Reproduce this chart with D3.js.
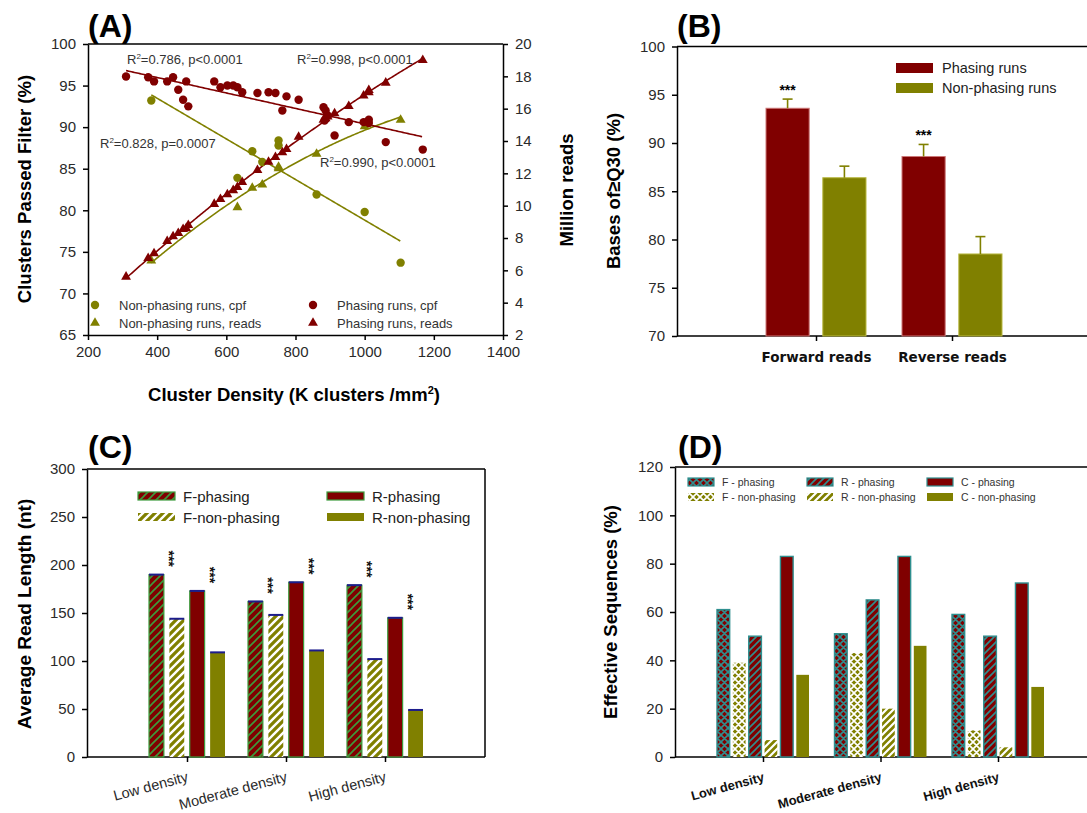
<!DOCTYPE html>
<html lang="en">
<head>
<meta charset="UTF-8">
<title>Phasing vs non-phasing runs</title>
<style>
  body { margin: 0; background: #fff; }
  svg { font-family: "Liberation Sans", Arial, sans-serif; }
</style>
</head>
<body>
<svg id="fig" width="1087" height="813"></svg>
<script src="https://d3js.org/d3.v7.min.js"></script>
<script>
// ---- panel A : cluster density vs cpf / reads ----
const phDensity = [310, 374, 391, 429, 446, 461, 475, 484, 490, 565, 583, 603, 620, 632, 646, 690,
                   722, 742, 762, 774, 809, 881, 884, 887, 893, 913, 954, 997, 1012, 1012, 1061, 1168];
const phCpf = [96.1, 96.0, 95.5, 95.5, 96.0, 94.5, 93.3, 95.5, 92.5, 95.5, 94.8, 95.0, 95.0, 94.8, 94.2, 94.1,
               94.2, 94.1, 92.0, 93.7, 93.3, 92.4, 90.8, 92.0, 91.4, 89.0, 90.6, 90.6, 90.9, 90.5, 88.2, 87.3];
const phReads = [5.6, 6.75, 7.05, 7.8, 8.1, 8.3, 8.55, 8.6, 8.8, 10.1, 10.4, 10.7, 10.95, 11.15, 11.45, 12.2,
                 12.7, 13.0, 13.3, 13.5, 14.25, 15.3, 15.35, 15.4, 15.5, 15.7, 16.15, 16.8, 17.0, 17.15, 17.6, 19.0];
const npDensity = [383, 632, 675, 704, 751, 751, 861, 1000, 1104];
const npCpf = [93.2, 83.9, 87.1, 85.8, 88.4, 87.8, 81.9, 79.8, 73.7];
const npReads = [6.6, 9.9, 11.1, 11.3, 12.3, 12.4, 13.2, 14.9, 15.3];
const fitNotes = ["=0.786, p<0.0001", "=0.998, p<0.0001", "=0.828, p=0.0007", "=0.990, p<0.0001"];

// ---- panel B : bases >= Q30 ----
const q30Categories = ["Forward reads", "Reverse reads"];
const q30Phasing = [93.6, 88.6];
const q30PhasingErr = [0.95, 1.25];
const q30NonPhasing = [86.4, 78.5];
const q30NonPhasingErr = [1.2, 1.8];

// ---- panel C : average read length ----
const densityCategories = ["Low density", "Moderate density", "High density"];
const lenFPhasing = [190, 162, 179];
const lenFNonPhasing = [144, 148, 102];
const lenRPhasing = [173, 182, 145];
const lenRNonPhasing = [109, 111, 49];

// ---- panel D : effective sequences ----
const effFPhasing = [61, 51, 59];
const effFNonPhasing = [39, 43, 11];
const effRPhasing = [50, 65, 50];
const effRNonPhasing = [7, 20, 4];
const effCPhasing = [83, 83, 72];
const effCNonPhasing = [34, 46, 29];

const red = "#800000", olive = "#808000", teal = "#2f8f8f", green = "#3c9c3c";
const ink = "#2a2a2a";

const svg = d3.select("#fig");
const defs = svg.append("defs");

function addHatch(id, bg, fg, size, sw, cross) {
  const p = defs.append("pattern").attr("id", id)
    .attr("patternUnits", "userSpaceOnUse").attr("width", size).attr("height", size);
  p.append("rect").attr("width", size).attr("height", size).attr("fill", bg);
  let d = `M0,${size} L${size},0 M-2,2 L2,-2 M${size - 2},${size + 2} L${size + 2},${size - 2}`;
  if (cross) d += ` M0,0 L${size},${size} M-2,${size - 2} L2,${size + 2} M${size - 2},-2 L${size + 2},2`;
  p.append("path").attr("d", d).attr("stroke", fg).attr("stroke-width", sw).attr("fill", "none");
}
addHatch("cFph", red, green, 8, 1.6, false);
addHatch("cFnp", olive, "#fff", 8, 2.4, false);
addHatch("dFph", red, teal, 7, 1.6, true);
addHatch("dFnp", olive, "#fff", 7, 1.7, true);
addHatch("dRph", red, teal, 7, 1.6, false);
addHatch("dRnp", olive, "#fff", 7, 2.2, false);

function styleAxis(g, fs) {
  g.selectAll("path, line").attr("stroke", "#000").attr("stroke-width", 1.5);
  g.selectAll("text").attr("font-size", fs).attr("fill", ink)
    .attr("font-family", "'Liberation Sans', Arial, sans-serif");
}
function hline(x1, x2, y) {
  svg.append("line").attr("x1", x1).attr("x2", x2).attr("y1", y).attr("y2", y)
    .attr("stroke", "#000").attr("stroke-width", 1.5);
}
function vline(x, y1, y2) {
  svg.append("line").attr("x1", x).attr("x2", x).attr("y1", y1).attr("y2", y2)
    .attr("stroke", "#000").attr("stroke-width", 1.5);
}
function yTitle(x, y, txt, fs) {
  svg.append("text").attr("transform", `translate(${x},${y}) rotate(-90)`)
    .attr("text-anchor", "middle").attr("dominant-baseline", "central")
    .attr("font-weight", "bold").attr("font-size", fs).attr("fill", "#000").text(txt);
}
function panelLabel(x, y, txt) {
  svg.append("text").attr("x", x).attr("y", y).attr("font-weight", "bold")
    .attr("font-size", 32).attr("fill", "#000").text(txt);
}

// least squares helpers for the fit lines
function linFit(xs, ys) {
  const mx = d3.mean(xs), my = d3.mean(ys);
  let sxy = 0, sxx = 0;
  xs.forEach((x, i) => { sxy += (x - mx) * (ys[i] - my); sxx += (x - mx) ** 2; });
  const b = sxy / sxx;
  return x => my + b * (x - mx);
}
function quadFit(xs, ys) {
  const mx = d3.mean(xs);
  const us = xs.map(x => (x - mx) / 1000);
  const s = [0, 0, 0, 0, 0], t = [0, 0, 0];
  us.forEach((u, i) => {
    for (let k = 0; k < 5; k++) s[k] += u ** k;
    for (let k = 0; k < 3; k++) t[k] += ys[i] * u ** k;
  });
  const m = [[s[0], s[1], s[2], t[0]], [s[1], s[2], s[3], t[1]], [s[2], s[3], s[4], t[2]]];
  for (let c = 0; c < 3; c++) {
    for (let r = c + 1; r < 3; r++) {
      const f = m[r][c] / m[c][c];
      for (let k = c; k < 4; k++) m[r][k] -= f * m[c][k];
    }
  }
  const co = [0, 0, 0];
  for (let r = 2; r >= 0; r--) {
    let v = m[r][3];
    for (let k = r + 1; k < 3; k++) v -= m[r][k] * co[k];
    co[r] = v / m[r][r];
  }
  return x => { const u = (x - mx) / 1000; return co[0] + co[1] * u + co[2] * u * u; };
}

// ================= PANEL A =================
const xA = d3.scaleLinear().domain([200, 1400]).range([88, 503]);
const yA = d3.scaleLinear().domain([65, 100]).range([335, 44]);
const yA2 = d3.scaleLinear().domain([2, 20]).range([335, 44]);

svg.append("g").attr("transform", "translate(0,335)")
  .call(d3.axisBottom(xA).tickValues(d3.range(200, 1401, 200)).tickFormat(d3.format("d"))
    .tickSize(5).tickSizeOuter(0).tickPadding(6))
  .call(g => styleAxis(g, 15));
svg.append("g").attr("transform", "translate(88,0)")
  .call(d3.axisLeft(yA).tickValues(d3.range(65, 101, 5)).tickSize(5).tickSizeOuter(0).tickPadding(7))
  .call(g => styleAxis(g, 15));
svg.append("g").attr("transform", "translate(503,0)")
  .call(d3.axisRight(yA2).tickValues(d3.range(2, 21, 2)).tickSize(5).tickSizeOuter(0).tickPadding(7))
  .call(g => styleAxis(g, 15));
hline(88, 503, 44);

function fitLine(xs, fn, yScale, color) {
  const pts = d3.range(d3.min(xs), d3.max(xs) + 0.1, 4).map(x => [xA(x), yScale(fn(x))]);
  svg.append("path").attr("d", d3.line()(pts)).attr("fill", "none")
    .attr("stroke", color).attr("stroke-width", 1.6);
}
fitLine(npDensity, linFit(npDensity, npCpf), yA, olive);
fitLine(npDensity, quadFit(npDensity, npReads), yA2, olive);
fitLine(phDensity, linFit(phDensity, phCpf), yA, red);
fitLine(phDensity, quadFit(phDensity, phReads), yA2, red);

const tri = d3.symbol().type(d3.symbolTriangle).size(42);
function dots(xs, ys, yScale, color) {
  svg.append("g").selectAll("circle").data(xs).join("circle")
    .attr("cx", d => xA(d)).attr("cy", (d, i) => yScale(ys[i])).attr("r", 4.2).attr("fill", color);
}
function tris(xs, ys, yScale, color) {
  svg.append("g").selectAll("path").data(xs).join("path")
    .attr("d", tri).attr("transform", (d, i) => `translate(${xA(d)},${yScale(ys[i])})`).attr("fill", color);
}
dots(npDensity, npCpf, yA, olive);
tris(npDensity, npReads, yA2, olive);
dots(phDensity, phCpf, yA, red);
tris(phDensity, phReads, yA2, red);

// fit annotations
const notePos = [[127, 64], [297, 64], [100, 148], [320, 167]];
fitNotes.forEach((t, i) => {
  const tx = svg.append("text").attr("x", notePos[i][0]).attr("y", notePos[i][1])
    .attr("font-size", 13).attr("fill", "#333");
  tx.append("tspan").text("R");
  tx.append("tspan").attr("dy", -5).attr("font-size", 8).text("2");
  tx.append("tspan").attr("dy", 5).text(t);
});

// legend A
const legA = [
  { x: 95, y: 305, shape: "c", color: olive, label: "Non-phasing runs, cpf" },
  { x: 95, y: 323, shape: "t", color: olive, label: "Non-phasing runs, reads" },
  { x: 313, y: 305, shape: "c", color: red, label: "Phasing runs, cpf" },
  { x: 313, y: 323, shape: "t", color: red, label: "Phasing runs, reads" }
];
legA.forEach(l => {
  if (l.shape === "c") svg.append("circle").attr("cx", l.x).attr("cy", l.y).attr("r", 4.2).attr("fill", l.color);
  else svg.append("path").attr("d", tri).attr("transform", `translate(${l.x},${l.y})`).attr("fill", l.color);
  svg.append("text").attr("x", l.x + 24).attr("y", l.y).attr("dominant-baseline", "central")
    .attr("font-size", 13).attr("fill", "#333").text(l.label);
});

yTitle(24, 189, "Clusters Passed Filter (%)", 18.5);
yTitle(566, 190, "Million reads", 18.5);
const xt = svg.append("text").attr("x", 294).attr("y", 401).attr("text-anchor", "middle")
  .attr("font-weight", "bold").attr("font-size", 18.5).attr("fill", "#000");
xt.append("tspan").text("Cluster Density (K clusters /mm");
xt.append("tspan").attr("dy", -7).attr("font-size", 11).text("2");
xt.append("tspan").attr("dy", 7).text(")");
panelLabel(88, 37, "(A)");

// ================= PANEL B =================
const xB = d3.scalePoint().domain(q30Categories).range([816, 952]);
const inB = d3.scaleBand().domain(["ph", "np"]).range([-50, 50]).paddingInner(0.24);
const yB = d3.scaleLinear().domain([70, 100]).range([336, 46.5]);

svg.append("g").attr("transform", "translate(677,0)")
  .call(d3.axisLeft(yB).tickValues(d3.range(70, 101, 5)).tickSize(5).tickSizeOuter(0).tickPadding(7))
  .call(g => styleAxis(g, 15));
const bAx = svg.append("g").attr("transform", "translate(0,336)")
  .call(d3.axisBottom(xB).tickSize(5).tickSizeOuter(0).tickPadding(11))
  .call(g => styleAxis(g, 14));
bAx.select(".domain").remove();
bAx.selectAll("text").attr("font-family", "'DejaVu Sans', sans-serif").attr("font-weight", "bold")
  .attr("font-size", 13.5).attr("fill", "#111");
hline(677, 1090, 336);
hline(677, 1090, 46.5);

const bRows = q30Categories.map((c, i) => [
  { cat: c, key: "ph", v: q30Phasing[i], e: q30PhasingErr[i], fill: red, stroke: "#c77" },
  { cat: c, key: "np", v: q30NonPhasing[i], e: q30NonPhasingErr[i], fill: olive, stroke: "#b8b840" }
]).flat();
const bG = svg.append("g");
bG.selectAll("rect").data(bRows).join("rect")
  .attr("x", d => xB(d.cat) + inB(d.key)).attr("width", inB.bandwidth())
  .attr("y", d => yB(d.v)).attr("height", d => yB(70) - yB(d.v))
  .attr("fill", d => d.fill).attr("stroke", d => d.stroke).attr("stroke-width", 1);
bRows.forEach(d => {
  const cx = xB(d.cat) + inB(d.key) + inB.bandwidth() / 2;
  bG.append("line").attr("x1", cx).attr("x2", cx).attr("y1", yB(d.v)).attr("y2", yB(d.v + d.e))
    .attr("stroke", olive).attr("stroke-width", 1.6);
  bG.append("line").attr("x1", cx - 5).attr("x2", cx + 5).attr("y1", yB(d.v + d.e)).attr("y2", yB(d.v + d.e))
    .attr("stroke", olive).attr("stroke-width", 1.6);
  if (d.key === "ph") {
    bG.append("text").attr("x", cx).attr("y", yB(d.v + d.e) - 4).attr("text-anchor", "middle")
      .attr("font-size", 14).attr("font-weight", "bold").attr("fill", "#000").text("***");
  }
});
[["Phasing runs", red, 63], ["Non-phasing runs", olive, 83]].forEach(([t, c, y]) => {
  svg.append("rect").attr("x", 896).attr("y", y).attr("width", 37).attr("height", 10).attr("fill", c);
  svg.append("text").attr("x", 942).attr("y", y + 5).attr("dominant-baseline", "central")
    .attr("font-size", 14.5).attr("fill", "#222").text(t);
});
yTitle(613, 191, "Bases of\u2265Q30 (%)", 18.5);
panelLabel(677, 37, "(B)");

// ================= PANEL C =================
const xC = d3.scalePoint().domain(densityCategories).range([187, 385]);
const cSeries = [
  { key: "F-phasing", vals: lenFPhasing, fill: "url(#cFph)", stroke: green, star: true },
  { key: "F-non-phasing", vals: lenFNonPhasing, fill: "url(#cFnp)", stroke: "none", star: false },
  { key: "R-phasing", vals: lenRPhasing, fill: red, stroke: green, star: true },
  { key: "R-non-phasing", vals: lenRNonPhasing, fill: olive, stroke: "none", star: false }
];
const inC = d3.scaleBand().domain(cSeries.map(s => s.key)).range([-38, 38]).paddingInner(0.27);
const yC = d3.scaleLinear().domain([0, 300]).range([757, 469]);

svg.append("g").attr("transform", "translate(87,0)")
  .call(d3.axisLeft(yC).tickValues(d3.range(0, 301, 50)).tickSize(5).tickSizeOuter(0).tickPadding(7))
  .call(g => styleAxis(g, 15));
const cAx = svg.append("g").attr("transform", "translate(0,757)")
  .call(d3.axisBottom(xC).tickSize(5).tickSizeOuter(0).tickFormat(""))
  .call(g => styleAxis(g, 15));
cAx.select(".domain").remove();
hline(87, 485, 757);
hline(87, 485, 469);
vline(485, 469, 757);

const cRows = cSeries.map(s => densityCategories.map((c, i) => ({ cat: c, v: s.vals[i], s }))).flat();
const cG = svg.append("g");
cG.selectAll("rect").data(cRows).join("rect")
  .attr("x", d => xC(d.cat) + inC(d.s.key)).attr("width", inC.bandwidth())
  .attr("y", d => yC(d.v)).attr("height", d => yC(0) - yC(d.v))
  .attr("fill", d => d.s.fill).attr("stroke", d => d.s.stroke).attr("stroke-width", 1.2);
cRows.forEach(d => {
  const x0 = xC(d.cat) + inC(d.s.key);
  cG.append("line").attr("x1", x0).attr("x2", x0 + inC.bandwidth()).attr("y1", yC(d.v)).attr("y2", yC(d.v))
    .attr("stroke", "#1c1c8c").attr("stroke-width", 2);
  if (d.s.star) {
    cG.append("text").attr("transform", `translate(${x0 + inC.bandwidth() + 5},${yC(d.v) - 16}) rotate(90)`)
      .attr("text-anchor", "middle").attr("dominant-baseline", "central")
      .attr("font-size", 14).attr("font-weight", "bold").attr("fill", "#111").text("***");
  }
});
densityCategories.forEach(c => {
  const x = xC(c) + 2, y = 781;
  svg.append("text").attr("x", x).attr("y", y).attr("text-anchor", "end")
    .attr("transform", `rotate(-15,${x},${y})`).attr("font-size", 14.5).attr("fill", ink).text(c);
});
cSeries.forEach((s, i) => {
  const lx = i < 2 ? 138 : 327, ly = i % 2 === 0 ? 492 : 513;
  svg.append("rect").attr("x", lx).attr("y", ly).attr("width", 37).attr("height", 8)
    .attr("fill", s.fill).attr("stroke", s.stroke).attr("stroke-width", 1.2);
  svg.append("text").attr("x", lx + 45).attr("y", ly + 4).attr("dominant-baseline", "central")
    .attr("font-size", 15).attr("fill", "#222").text(s.key);
});
yTitle(24, 614, "Average Read Length (nt)", 19);
panelLabel(88, 458, "(C)");

// ================= PANEL D =================
const xD = d3.scalePoint().domain(densityCategories).range([763, 998]);
const dSeries = [
  { key: "F - phasing", vals: effFPhasing, fill: "url(#dFph)", stroke: teal },
  { key: "F - non-phasing", vals: effFNonPhasing, fill: "url(#dFnp)", stroke: "none" },
  { key: "R - phasing", vals: effRPhasing, fill: "url(#dRph)", stroke: teal },
  { key: "R - non-phasing", vals: effRNonPhasing, fill: "url(#dRnp)", stroke: "none" },
  { key: "C - phasing", vals: effCPhasing, fill: red, stroke: teal },
  { key: "C - non-phasing", vals: effCNonPhasing, fill: olive, stroke: "none" }
];
const inD = d3.scaleBand().domain(dSeries.map(s => s.key)).range([-46, 46]).paddingInner(0.2);
const yD = d3.scaleLinear().domain([0, 120]).range([757, 467]);

svg.append("g").attr("transform", "translate(675,0)")
  .call(d3.axisLeft(yD).tickValues(d3.range(0, 121, 20)).tickSize(5).tickSizeOuter(0).tickPadding(7))
  .call(g => styleAxis(g, 15));
const dAx = svg.append("g").attr("transform", "translate(0,757)")
  .call(d3.axisBottom(xD).tickSize(5).tickSizeOuter(0).tickFormat(""))
  .call(g => styleAxis(g, 15));
dAx.select(".domain").remove();
hline(675, 1090, 757);
hline(675, 1090, 467);

const dRows = dSeries.map(s => densityCategories.map((c, i) => ({ cat: c, v: s.vals[i], s }))).flat();
svg.append("g").selectAll("rect").data(dRows).join("rect")
  .attr("x", d => xD(d.cat) + inD(d.s.key)).attr("width", inD.bandwidth())
  .attr("y", d => yD(d.v)).attr("height", d => yD(0) - yD(d.v))
  .attr("fill", d => d.s.fill).attr("stroke", d => d.s.stroke).attr("stroke-width", 1.4);
densityCategories.forEach(c => {
  const x = xD(c) + 2, y = 781;
  svg.append("text").attr("x", x).attr("y", y).attr("text-anchor", "end")
    .attr("transform", `rotate(-15,${x},${y})`).attr("font-size", 13).attr("font-weight", "bold")
    .attr("fill", "#111").text(c);
});
dSeries.forEach((s, i) => {
  const lx = [688, 807, 927][Math.floor(i / 2)], ly = i % 2 === 0 ? 478 : 493;
  svg.append("rect").attr("x", lx).attr("y", ly).attr("width", 26).attr("height", 8)
    .attr("fill", s.fill).attr("stroke", s.stroke).attr("stroke-width", 1.2);
  svg.append("text").attr("x", lx + 34).attr("y", ly + 4).attr("dominant-baseline", "central")
    .attr("font-size", 10.5).attr("fill", "#333").text(s.key);
});
yTitle(610, 612, "Effective Sequences (%)", 18.5);
panelLabel(678, 458, "(D)");
</script>
</body>
</html>
